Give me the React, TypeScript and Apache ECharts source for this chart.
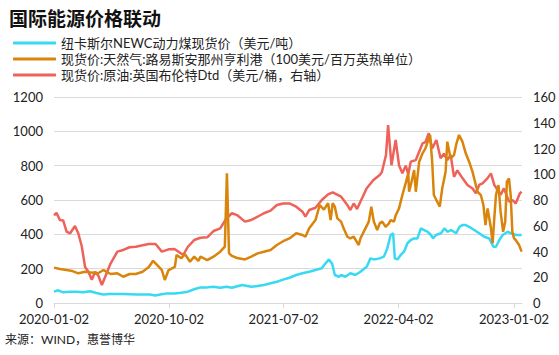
import React, { useEffect, useRef } from "react";
import * as echarts from "echarts";

const chartTitle = "国际能源价格联动";
const sourceText = "来源：WIND，惠誉博华";
const seriesNames = [
  "纽卡斯尔NEWC动力煤现货价（美元/吨）",
  "现货价:天然气:路易斯安那州亨利港（100美元/百万英热单位）",
  "现货价:原油:英国布伦特Dtd（美元/桶，右轴）",
];
const seriesColors = ["#38D9F2", "#D9840B", "#EE625A"];

const xTickDates = ["2020-01-02", "2020-10-02", "2021-07-02", "2022-04-02", "2023-01-02"];
const xMinDate = "2020-01-02";
const xMaxDate = "2023-01-21";
const leftAxis = { min: 0, max: 1200, interval: 200 };
const rightAxis = { min: 0, max: 160, interval: 20 };

// 纽卡斯尔动力煤 (left axis)
const coalDates = [
  "2020-01-02","2020-01-12","2020-01-24","2020-02-09","2020-02-25","2020-03-12","2020-03-28","2020-04-12","2020-04-28","2020-05-14",
  "2020-06-15","2020-07-17","2020-08-18","2020-08-30","2020-09-11","2020-09-27","2020-10-15","2020-10-31","2020-11-16","2020-12-01",
  "2020-12-16","2021-01-01","2021-01-16","2021-02-01","2021-02-16","2021-03-01","2021-03-25","2021-04-16","2021-05-01","2021-05-16",
  "2021-06-01","2021-06-16","2021-07-01","2021-07-16","2021-08-01","2021-08-16","2021-09-01","2021-09-16","2021-10-01","2021-10-10",
  "2021-10-18","2021-10-26","2021-11-01","2021-11-11","2021-11-16","2021-11-26","2021-12-08","2021-12-20","2022-01-01","2022-01-16",
  "2022-01-25","2022-02-02","2022-02-16","2022-02-26","2022-03-06","2022-03-14","2022-03-20","2022-03-24","2022-03-30","2022-04-07",
  "2022-04-15","2022-04-23","2022-05-01","2022-05-09","2022-05-17","2022-05-25","2022-06-02","2022-06-10","2022-06-18","2022-06-23",
  "2022-06-30","2022-07-12","2022-07-20","2022-07-28","2022-08-05","2022-08-17","2022-08-25","2022-09-01","2022-09-09","2022-09-17",
  "2022-09-29","2022-10-11","2022-10-23","2022-11-04","2022-11-14","2022-11-20","2022-11-28","2022-12-06","2022-12-18","2022-12-26",
  "2023-01-07","2023-01-20",
];
const coalValues = [
  66, 74, 62, 66, 66, 62, 68, 58, 50, 52,
  52, 49, 49, 44, 50, 56, 56, 60, 66, 80,
  91, 91, 95, 89, 95, 89, 105, 95, 99, 105,
  115, 124, 136, 147, 163, 173, 182, 192, 202, 231,
  254, 227, 163, 153, 163, 153, 173, 163, 182, 211,
  260, 254, 260, 270, 318, 396, 406, 260, 254, 280,
  299, 348, 367, 376, 376, 435, 425, 415, 396, 376,
  396, 406, 435, 415, 425, 406, 444, 454, 454, 444,
  425, 406, 386, 376, 328, 328, 367, 396, 415, 406,
  396, 396,
];

// 亨利港天然气 (left axis)
const gasDates = [
  "2020-01-02","2020-01-16","2020-02-01","2020-02-15","2020-02-29","2020-03-16","2020-04-01","2020-04-16","2020-04-29","2020-05-16",
  "2020-06-01","2020-06-15","2020-06-30","2020-07-15","2020-07-31","2020-08-15","2020-08-25","2020-08-31","2020-09-15","2020-09-22",
  "2020-10-01","2020-10-16","2020-10-20","2020-10-31","2020-11-09","2020-11-21","2020-12-01","2020-12-11","2020-12-16","2021-01-01",
  "2021-01-16","2021-02-01","2021-02-12","2021-02-17","2021-02-22","2021-03-01","2021-03-13","2021-04-01","2021-04-16","2021-05-01",
  "2021-05-16","2021-06-01","2021-06-16","2021-07-01","2021-07-16","2021-08-01","2021-08-16","2021-08-23","2021-09-01","2021-09-16",
  "2021-09-26","2021-10-06","2021-10-16","2021-10-22","2021-10-27","2021-11-01","2021-11-07","2021-11-16","2021-11-22","2021-12-01",
  "2021-12-08","2021-12-16","2021-12-28","2022-01-01","2022-01-13","2022-01-21","2022-01-27","2022-02-02","2022-02-10","2022-02-16",
  "2022-02-22","2022-03-02","2022-03-10","2022-03-14","2022-03-22","2022-03-26","2022-04-03","2022-04-11","2022-04-19","2022-04-25",
  "2022-04-27","2022-05-03","2022-05-09","2022-05-13","2022-05-21","2022-05-29","2022-06-05","2022-06-16","2022-06-21","2022-06-25",
  "2022-07-03","2022-07-09","2022-07-15","2022-07-23","2022-07-27","2022-08-04","2022-08-12","2022-08-18","2022-08-24","2022-09-01",
  "2022-09-09","2022-09-17","2022-09-25","2022-10-07","2022-10-15","2022-10-21","2022-10-26","2022-10-31","2022-11-08","2022-11-12",
  "2022-11-16","2022-11-20","2022-11-26","2022-12-01","2022-12-07","2022-12-12","2022-12-16","2022-12-21","2022-12-25","2022-12-29",
  "2023-01-02","2023-01-06","2023-01-14","2023-01-20",
];
const gasValues = [
  206, 198, 192, 186, 173, 182, 177, 173, 192, 169,
  173, 153, 169, 169, 182, 210, 246, 231, 192, 134,
  192, 210, 280, 260, 285, 240, 270, 245, 270, 250,
  270, 299, 328, 755, 289, 274, 262, 254, 270, 289,
  299, 309, 338, 360, 376, 406, 396, 386, 435, 483,
  571, 544, 581, 483, 581, 561, 493, 474, 435, 386,
  376, 386, 338, 376, 435, 474, 561, 474, 425, 464,
  474, 444, 464, 483, 474, 510, 551, 629, 700, 755,
  648, 707, 774, 648, 823, 872, 901, 979, 823, 629,
  590, 561, 668, 765, 940, 842, 862, 930, 979, 940,
  872, 823, 765, 648, 629, 571, 454, 551, 435, 348,
  493, 629, 687, 532, 415, 474, 707, 726, 629, 415,
  376, 367, 338, 299,
];

// 布伦特原油 (right axis)
const oilDates = [
  "2020-01-02","2020-01-08","2020-01-16","2020-01-24","2020-02-01","2020-02-09","2020-02-21","2020-02-29","2020-03-08","2020-03-16",
  "2020-03-24","2020-04-01","2020-04-09","2020-04-17","2020-04-25","2020-05-03","2020-05-16","2020-06-01","2020-06-15","2020-06-30",
  "2020-07-15","2020-07-31","2020-08-15","2020-08-31","2020-09-15","2020-10-01","2020-10-15","2020-11-05","2020-11-16","2020-12-01",
  "2020-12-16","2021-01-01","2021-01-16","2021-02-01","2021-02-16","2021-03-01","2021-03-13","2021-04-01","2021-04-16","2021-05-01",
  "2021-05-16","2021-06-01","2021-06-16","2021-07-01","2021-07-16","2021-08-01","2021-08-16","2021-08-23","2021-09-01","2021-09-16",
  "2021-10-01","2021-10-16","2021-10-27","2021-11-16","2021-12-01","2021-12-08","2021-12-16","2021-12-24","2022-01-01","2022-01-16",
  "2022-02-01","2022-02-16","2022-02-21","2022-03-03","2022-03-08","2022-03-16","2022-03-26","2022-04-03","2022-04-11","2022-04-19",
  "2022-04-25","2022-05-01","2022-05-13","2022-05-21","2022-05-29","2022-06-05","2022-06-13","2022-06-21","2022-07-01","2022-07-11",
  "2022-07-19","2022-07-27","2022-08-04","2022-08-12","2022-08-20","2022-09-01","2022-09-13","2022-09-25","2022-10-03","2022-10-11",
  "2022-10-19","2022-10-31","2022-11-08","2022-11-16","2022-11-24","2022-12-01","2022-12-09","2022-12-21","2022-12-29","2023-01-06",
  "2023-01-16","2023-01-20",
];
const oilValues = [
  68, 70, 64.5, 64, 55.4, 54, 59.8, 54, 44.3, 28,
  24.3, 18, 24.3, 21, 14, 20.4, 30.8, 39.9, 41.2, 43.3,
  43.7, 44.8, 45.8, 45.8, 39.9, 41.7, 41.9, 37.3, 43.7, 48.9,
  50.7, 51, 55.9, 58, 65.8, 69.7, 68.3, 63.2, 64.5, 67,
  69.7, 71.7, 76.1, 77.3, 77.3, 74.8, 70.9, 67, 72.2, 74,
  80, 84.4, 86, 82.6, 76.1, 72.2, 77.3, 73, 78.7, 89.1,
  95.5, 99.4, 101.5, 115, 138.2, 107, 126.6, 107, 100.7, 106.7,
  100, 109.8, 111, 117.5, 124, 125, 131.8, 120, 126.6, 112.4,
  116, 111, 115, 98, 103, 97, 91.7, 89, 85.2, 91.7,
  93, 97, 100.7, 91.7, 87.8, 84, 89, 78.7, 80, 77.3,
  85.2, 86.4,
];

const FONT = "Lato, 'Noto Sans CJK SC', sans-serif";

function toTs(s: string): number {
  const [y, m, d] = s.split("-").map(Number);
  return Date.UTC(y, m - 1, d);
}
function fmtDate(v: number): string {
  const dt = new Date(v);
  const p = (n: number) => (n < 10 ? "0" + n : "" + n);
  return dt.getUTCFullYear() + "-" + p(dt.getUTCMonth() + 1) + "-" + p(dt.getUTCDate());
}
function zip(dates: string[], vals: number[]) {
  return dates.map((d, i) => [toTs(d), vals[i]]);
}

export default function App() {
  const ref = useRef<HTMLDivElement>(null);
  useEffect(() => {
    document.body.style.margin = "0";
    if (!ref.current) return;
    const chart = echarts.init(ref.current, null, { renderer: "svg" });
    const tickTs = xTickDates.map(toTs);
    const plainNum = (v: number) => String(v);
    const option: any = {
      animation: false,
      backgroundColor: "#ffffff",
      textStyle: { fontFamily: FONT },
      title: {
        text: chartTitle,
        left: 9,
        top: 9,
        padding: 0,
        textStyle: { fontSize: 19, fontWeight: "bold", color: "#111", fontFamily: FONT },
      },
      legend: {
        orient: "vertical",
        left: 13,
        top: 35,
        padding: 0,
        itemWidth: 43,
        itemHeight: 3,
        itemGap: 0,
        icon: "roundRect",
        data: seriesNames,
        textStyle: { fontSize: 13, color: "#222", fontFamily: FONT, lineHeight: 16 },
      },
      grid: { left: 54, right: 37, top: 97, bottom: 52 },
      xAxis: {
        type: "value",
        min: toTs(xMinDate),
        max: toTs(xMaxDate),
        splitLine: { show: false },
        axisLine: { show: true, lineStyle: { color: "#D9D9D9", width: 1 } },
        axisTick: { show: true, customValues: tickTs, length: 5, lineStyle: { color: "#D9D9D9" } },
        axisLabel: {
          customValues: tickTs,
          formatter: (v: number) => fmtDate(v),
          fontSize: 13,
          color: "#222",
          margin: 9,
          fontFamily: FONT,
        },
      },
      yAxis: [
        {
          type: "value",
          min: leftAxis.min,
          max: leftAxis.max,
          interval: leftAxis.interval,
          axisLine: { show: false },
          axisTick: { show: false },
          splitLine: { show: true, lineStyle: { color: "#D9D9D9", width: 1 } },
          axisLabel: { fontSize: 13, color: "#222", margin: 11, fontFamily: FONT, formatter: plainNum },
        },
        {
          type: "value",
          position: "right",
          min: rightAxis.min,
          max: rightAxis.max,
          interval: rightAxis.interval,
          axisLine: { show: false },
          axisTick: { show: false },
          splitLine: { show: false },
          axisLabel: { fontSize: 13, color: "#222", margin: 11, fontFamily: FONT, formatter: plainNum },
        },
      ],
      series: [
        {
          name: seriesNames[0],
          type: "line",
          yAxisIndex: 0,
          data: zip(coalDates, coalValues),
          showSymbol: false,
          symbol: "none",
          z: 2,
          itemStyle: { color: seriesColors[0] },
          lineStyle: { color: seriesColors[0], width: 2.5 },
        },
        {
          name: seriesNames[1],
          type: "line",
          yAxisIndex: 0,
          data: zip(gasDates, gasValues),
          showSymbol: false,
          symbol: "none",
          z: 4,
          itemStyle: { color: seriesColors[1] },
          lineStyle: { color: seriesColors[1], width: 2.5 },
        },
        {
          name: seriesNames[2],
          type: "line",
          yAxisIndex: 1,
          data: zip(oilDates, oilValues),
          showSymbol: false,
          symbol: "none",
          z: 3,
          itemStyle: { color: seriesColors[2] },
          lineStyle: { color: seriesColors[2], width: 2.5 },
        },
      ],
      graphic: [
        {
          type: "text",
          left: 5,
          top: 333,
          style: { text: sourceText, fontSize: 12, fill: "#222", fontFamily: FONT },
        },
      ],
    };
    chart.setOption(option);
    return () => chart.dispose();
  }, []);
  return (
    <div
      ref={ref}
      style={{ position: "fixed", left: 0, top: 0, width: 559, height: 355, background: "#fff" }}
    />
  );
}
